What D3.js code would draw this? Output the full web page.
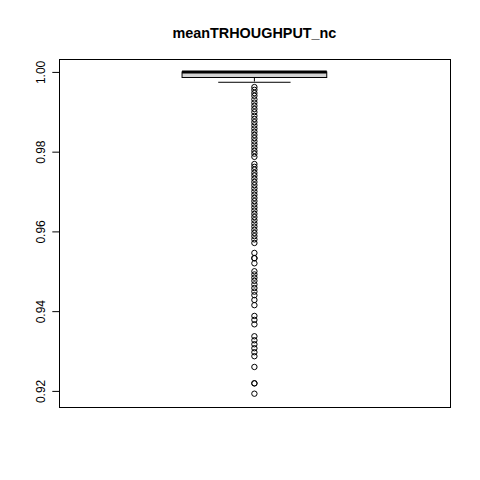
<!DOCTYPE html>
<html>
<head>
<meta charset="utf-8">
<script src="https://cdn.jsdelivr.net/npm/d3@7"></script>
<style>
  html, body { margin: 0; padding: 0; background: #fff; }
  svg { display: block; }
</style>
</head>
<body>
<script>
// ---- data ----
const title = "meanTRHOUGHPUT_nc";
const categories = ["meanTRHOUGHPUT_nc"];
// [lower whisker, Q1, median, Q3, upper whisker]
const boxStats = [0.9974, 0.9986, 1.0, 1.0, 1.0];
const outliers = [
  0.9962, 0.9955, 0.9947, 0.9940, 0.9931, 0.9923, 0.9915, 0.9907, 0.9899, 0.9890,
  0.9882, 0.9874, 0.9866, 0.9858, 0.9850, 0.9842, 0.9834, 0.9826, 0.9818, 0.9810,
  0.9802, 0.9795, 0.9787,
  0.9769, 0.9762, 0.9755, 0.9747, 0.9740, 0.9732, 0.9724, 0.9716, 0.9708, 0.9700,
  0.9692, 0.9684, 0.9676, 0.9668, 0.9660, 0.9652, 0.9644, 0.9636, 0.9628, 0.9620,
  0.9612, 0.9604, 0.9596, 0.9588, 0.9580, 0.9571,
  0.9546, 0.9533, 0.9533, 0.9520,
  0.9500, 0.9492, 0.9484, 0.9476, 0.9467, 0.9458, 0.9449, 0.9440, 0.9428, 0.9415,
  0.9388, 0.9378, 0.9367,
  0.9337, 0.9327, 0.9317, 0.9307, 0.9297, 0.9287,
  0.9260, 0.9219, 0.9219, 0.9193
];
const yTicks = [0.92, 0.94, 0.96, 0.98, 1.00];
const yTickLabels = ["0.92", "0.94", "0.96", "0.98", "1.00"];

(function () {
// ---- layout (R default margins at 480px) ----
const W = 480, H = 480, lineH = 14.4;
const mLeft = 4.1 * lineH, mRight = W - 2.1 * lineH, mTop = 4.1 * lineH, mBottom = H - 5.1 * lineH;

const svg = d3.select("body").append("svg").attr("width", W).attr("height", H);

const allVals = boxStats.concat(outliers);
const ext = d3.extent(allVals);
const pad = (ext[1] - ext[0]) * 0.04;
const y = d3.scaleLinear().domain([ext[0] - pad, ext[1] + pad]).range([mBottom, mTop]);
const x = d3.scaleLinear().domain([0.46, categories.length + 0.54]).range([mLeft, mRight]);

const font = "'Liberation Sans', Arial, Helvetica, sans-serif";

// title
svg.append("text")
  .attr("x", (mLeft + mRight) / 2).attr("y", 38)
  .attr("text-anchor", "middle")
  .attr("font-family", font).attr("font-weight", "bold").attr("font-size", 14.4)
  .text(title);

// y axis
const yAxis = d3.axisLeft(y).tickValues(yTicks)
  .tickFormat((d, i) => yTickLabels[i]).tickSize(7.2).tickPadding(0);
const ag = svg.append("g").attr("transform", `translate(${Math.round(mLeft) + 0.5},0)`).call(yAxis);
ag.select(".domain").attr("stroke", "#000")
  .attr("d", `M0,${y(yTicks[0])}V${y(yTicks[yTicks.length-1])}`);
ag.selectAll(".tick line").attr("stroke", "#000");
ag.selectAll(".tick text")
  .attr("font-family", font).attr("font-size", 12).attr("fill", "#000")
  .attr("text-anchor", "middle")
  .attr("x", null).attr("dy", null)
  .attr("transform", "translate(-15,0) rotate(-90)");

// plot frame
svg.append("rect")
  .attr("x", Math.round(mLeft) + 0.5).attr("y", Math.round(mTop) + 0.5)
  .attr("width", Math.round(mRight) - Math.round(mLeft)).attr("height", Math.round(mBottom) - Math.round(mTop))
  .attr("fill", "none").attr("stroke", "#000").attr("stroke-width", 1);

// box
const g = svg.append("g");
categories.forEach((c, i) => {
  const cx = i + 1;
  const [lw, q1, med, q3, uw] = boxStats;
  g.append("line").attr("x1", x(cx)).attr("x2", x(cx)).attr("y1", y(q1)).attr("y2", y(lw))
    .attr("stroke", "#000").attr("stroke-dasharray", "4,4");
  g.append("line").attr("x1", x(cx)).attr("x2", x(cx)).attr("y1", y(q3)).attr("y2", y(uw))
    .attr("stroke", "#000").attr("stroke-dasharray", "4,4");
  g.append("line").attr("x1", x(cx - 0.1)).attr("x2", x(cx + 0.1)).attr("y1", y(lw)).attr("y2", y(lw))
    .attr("stroke", "#000");
  g.append("line").attr("x1", x(cx - 0.1)).attr("x2", x(cx + 0.1)).attr("y1", y(uw)).attr("y2", y(uw))
    .attr("stroke", "#000");
  g.append("rect")
    .attr("x", x(cx - 0.2)).attr("width", x(cx + 0.2) - x(cx - 0.2))
    .attr("y", y(q3)).attr("height", y(q1) - y(q3))
    .attr("fill", "#d3d3d3").attr("stroke", "#000").attr("stroke-width", 1);
  g.append("line").attr("x1", x(cx - 0.2)).attr("x2", x(cx + 0.2)).attr("y1", y(med)).attr("y2", y(med))
    .attr("stroke", "#000").attr("stroke-width", 3);
  g.selectAll(null).data(outliers).enter().append("circle")
    .attr("cx", x(cx)).attr("cy", d => y(d)).attr("r", 2.7)
    .attr("fill", "none").attr("stroke", "#000").attr("stroke-width", 1);
});
})();
</script>
</body>
</html>
